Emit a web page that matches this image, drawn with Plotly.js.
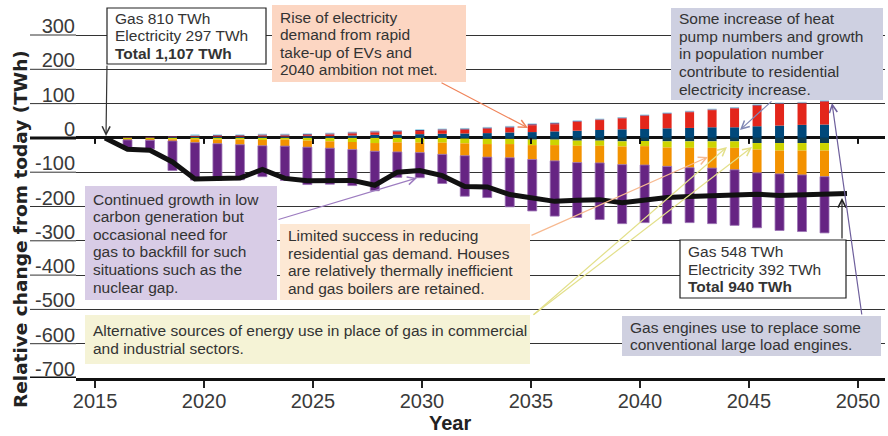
<!DOCTYPE html>
<html><head><meta charset="utf-8">
<script src="https://cdn.plot.ly/plotly-3.0.1.min.js"></script>
<style>html,body{margin:0;padding:0;background:#fff;}#chart{width:888px;height:436px;}</style>
</head><body><div id="chart"></div>
<script>
// ---- data (TWh change from today) ----
const lineYears = [2016,2017,2018,2019,2020,2021,2022,2023,2024,2025,2026,2027,2028,2029,2030,2031,2032,2033,2034,2035,2036,2037,2038,2039,2040,2041,2042,2043,2044,2045,2046,2047,2048,2049];
const netChange = [0,-33,-36,-70,-120,-118,-117,-92,-118,-125,-124,-124,-138,-100,-95,-110,-142,-143,-165,-176,-185,-182,-180,-189,-180,-174,-171,-168,-166,-164,-168,-165,-164,-162];

const barYears = [2017,2018,2019,2020,2021,2022,2023,2024,2025,2026,2027,2028,2029,2030,2031,2032,2033,2034,2035,2036,2037,2038,2039,2040,2041,2042,2043,2044,2045,2046,2047,2048];
const elecResidential = [0,0,2,3,3,3,4,4,5,5,7,9,10,11,12,13,14,16,17,19,21,23,25,26,28,29,31,31,34,36,38,39];
const elecTransport   = [0,0,0,2,2,2,3,3,3,5,6,7,8,9,10,11,13,14,20,21,26,29,32,38,42,46,50,55,60,63,63,67];
const elecOther       = [2,3,3,2,3,3,3,3,3,3,3,3,3,3,3,3,3,3,3,3,2,2,2,2,2,2,2,2,2,2,2,2];
const elecCommercial  = [0,0,0,3,2,2,2,2,2,2,2,2,2,2,2,2,2,2,2,2,2,2,2,2,2,2,2,2,2,2,2,2];
const gasOther        = [0,0,0,0,0,0,0,0,0,0,0,0,0,0,0,-2,-3,-3,-5,-5,-8,-8,-10,-9,-10,-10,-10,-10,-15,-15,-15,-15];
const gasIndustrial   = [-3,-3,-4,-4,-5,-5,-6,-5,-8,-10,-12,-15,-13,-14,-14,-14,-15,-15,-16,-16,-15,-15,-15,-15,-18,-19,-19,-19,-19,-22,-22,-22];
const gasResidential  = [-3,-4,-5,-10,-12,-15,-17,-19,-19,-20,-22,-24,-28,-29,-34,-36,-38,-40,-42,-46,-49,-50,-53,-55,-55,-58,-59,-64,-68,-68,-71,-76];
const gasPower        = [-24,-25,-86,-109,-107,-102,-90,-100,-109,-105,-105,-115,-74,-73,-85,-118,-118,-143,-150,-161,-160,-165,-172,-168,-167,-160,-162,-162,-160,-165,-165,-164];

const xTickVals = [2015,2020,2025,2030,2035,2040,2045,2050];
const yTickVals = [300,200,100,0,-100,-200,-300,-400,-500,-600,-700];
const yTickText = ['300','200','100','0','-100','-200','-300','-400','-500','-600','-700'];

// ---- layout helpers (pixel -> paper) ----
const L=76, R=885, T=20, B=378;
const px = v => (v-L)/(R-L);
const py = v => (B-v)/(B-T);
const YMIN=-700, YMAX=300+15/0.343;
const PXPERUNIT = (B-T)/(YMAX-YMIN);
const LABELSHIFT = 9/PXPERUNIT;   // labels sit ~9px above their gridline
const FONT = 'Liberation Sans, Arial, sans-serif';

function bar(y, color, line){
  return {type:'bar', x:barYears, y:y, xaxis:'x', yaxis:'y', width:0.4,
    marker:{color:color, line:line||{width:0}}, hoverinfo:'skip'};
}

const traces = [
  bar(elecResidential,'#00487a'),
  bar(elecTransport,'#e3261b'),
  bar(elecOther,'#7c2c5e'),
  bar(elecCommercial,'#7fc8e0'),
  bar(gasOther,'#0e3d52'),
  bar(gasIndustrial,'#cdd400'),
  bar(gasResidential,'#f39200'),
  bar(gasPower,'#662483',{width:0.8, color:'#9a72b4'}),
  {type:'scatter', mode:'lines', x:lineYears, y:netChange, xaxis:'x', yaxis:'y',
   line:{color:'#111', width:5}, hoverinfo:'skip'},
  {type:'scatter', mode:'markers', x:xTickVals, y:xTickVals.map(()=>0), xaxis:'x2', yaxis:'y2',
   marker:{opacity:0}, hoverinfo:'skip'}
];

const shapes = [];
const annotations = [];

// gridline / axis-line extensions into the label gutter
yTickVals.forEach(v => {
  const w = v===0 ? 3 : (v===YMIN ? 3 : 1);
  shapes.push({type:'line', xref:'paper', yref:'y', x0:px(30), x1:0, y0:v, y1:v,
    line:{color: w>1 ? '#111' : '#333', width:w}});
});
// small ticks hanging off the zero line
xTickVals.forEach(v => {
  shapes.push({type:'line', xref:'x2', yref:'y', x0:v, x1:v, y0:0, y1:-6/PXPERUNIT,
    line:{color:'#111', width:2}});
});

function box(l,t,r,b,lines,bg,border){
  shapes.push({type:'rect', xref:'paper', yref:'paper', x0:px(l), x1:px(r), y0:py(b), y1:py(t),
    fillcolor:bg, line:{color:border||bg, width:border?1.2:0}});
  const lh = 17.6;
  const c0 = (t+b)/2 - (lines.length-1)*lh/2;
  lines.forEach((s,i) => {
    annotations.push({xref:'paper', yref:'paper', x:px(l+6), y:py(c0+i*lh), xanchor:'left', yanchor:'middle',
      text:s, showarrow:false, font:{family:FONT, size:15.5, color:'#333'}});
  });
}
function arrow(x0,y0,x1,y1,color){
  annotations.push({xref:'paper', yref:'paper', x:px(x1), y:py(y1), ax:x0-x1, ay:y0-y1, axref:'pixel', ayref:'pixel',
    text:'', showarrow:true, arrowhead:5, arrowsize:1.3, arrowwidth:1.2, arrowcolor:color, standoff:0, startstandoff:0});
}

arrow(107,64,106,136,'#333');
arrow(440,82,528,128,'#f0845a');
arrow(773,100,740,130,'#8088b5');
arrow(277,220,417,178,'#9d7cc0');
arrow(530,236,708,157,'#f7b990');
arrow(532,316,727,147,'#e3e08a');
arrow(532,316,752,147,'#e3e08a');
arrow(842,240,842,198,'#222');
arrow(862,316,832,103,'#6e5f9c');

box(107,8,266,64,['Gas 810 TWh','Electricity 297 TWh','<b>Total 1,107 TWh</b>'],'#ffffff','#222');
box(272,5,466,82,['Rise of electricity','demand from rapid','take-up of EVs and','2040 ambition not met.'],'#fcd6c2');
box(671,8,883,100,['Some increase of heat','pump numbers and growth','in population number','contribute to residential','electricity increase.'],'#ced0e1');
box(85,186,277,300,['Continued growth in low','carbon generation but','occasional need for','gas to backfill for such','situations such as the','nuclear gap.'],'#d8cce6');
box(280,224,530,300,['Limited success in reducing','residential gas demand. Houses','are relatively thermally inefficient','and gas boilers are retained.'],'#fde8d4');
box(85,315,530,364,['Alternative sources of energy use in place of gas in commercial','and industrial sectors.'],'#f5f3d6');
box(680,240,846,298,['Gas 548 TWh','Electricity 392 TWh','<b>Total 940 TWh</b>'],'#ffffff','#222');
box(622,316,881,356,['Gas engines use to replace some','conventional large load engines.'],'#cfd0e0');

// axis titles
annotations.push({xref:'paper', yref:'paper', x:px(20), y:py(229), xanchor:'center', yanchor:'middle', textangle:-90,
  text:'<b>Relative change from today (TWh)</b>', showarrow:false,
  font:{family:'DejaVu Sans, sans-serif', size:18.5, color:'#222'}});
annotations.push({xref:'paper', yref:'paper', x:px(450), y:py(423), xanchor:'center', yanchor:'middle',
  text:'<b>Year</b>', showarrow:false, font:{family:FONT, size:20, color:'#222'}});

const layout = {
  width:888, height:436, margin:{l:L, r:888-R, t:T, b:436-B},
  paper_bgcolor:'#fff', plot_bgcolor:'#fff', showlegend:false, barmode:'relative',
  font:{family:FONT, color:'#333'},
  // data axis (bar / line positions)
  xaxis:{range:[2014.710,2050.690], visible:false, anchor:'y'},
  // displayed year axis
  xaxis2:{overlaying:'x', anchor:'y', side:'bottom', range:[2014.128,2051.239], tickvals:xTickVals,
    ticks:'outside', ticklen:7, tickwidth:2, tickcolor:'#222', ticklabelstandoff:-4,
    showline:true, linewidth:3, linecolor:'#111', showgrid:false, zeroline:false,
    tickfont:{family:FONT, size:20, color:'#3a3a3a'}},
  yaxis:{range:[YMIN,YMAX], tickvals:yTickVals, showticklabels:false, ticks:'',
    showline:false, showgrid:true, gridcolor:'#333', gridwidth:1,
    zeroline:true, zerolinecolor:'#111', zerolinewidth:3},
  yaxis2:{overlaying:'y', anchor:'x', side:'left', range:[YMIN-LABELSHIFT, YMAX-LABELSHIFT],
    tickvals:yTickVals, ticktext:yTickText, ticks:'', showline:false, showgrid:false, zeroline:false,
    tickfont:{family:FONT, size:20, color:'#3a3a3a'}},
  shapes:shapes,
  annotations:annotations
};

Plotly.newPlot('chart', traces, layout, {displayModeBar:false, staticPlot:true});
</script></body></html>
